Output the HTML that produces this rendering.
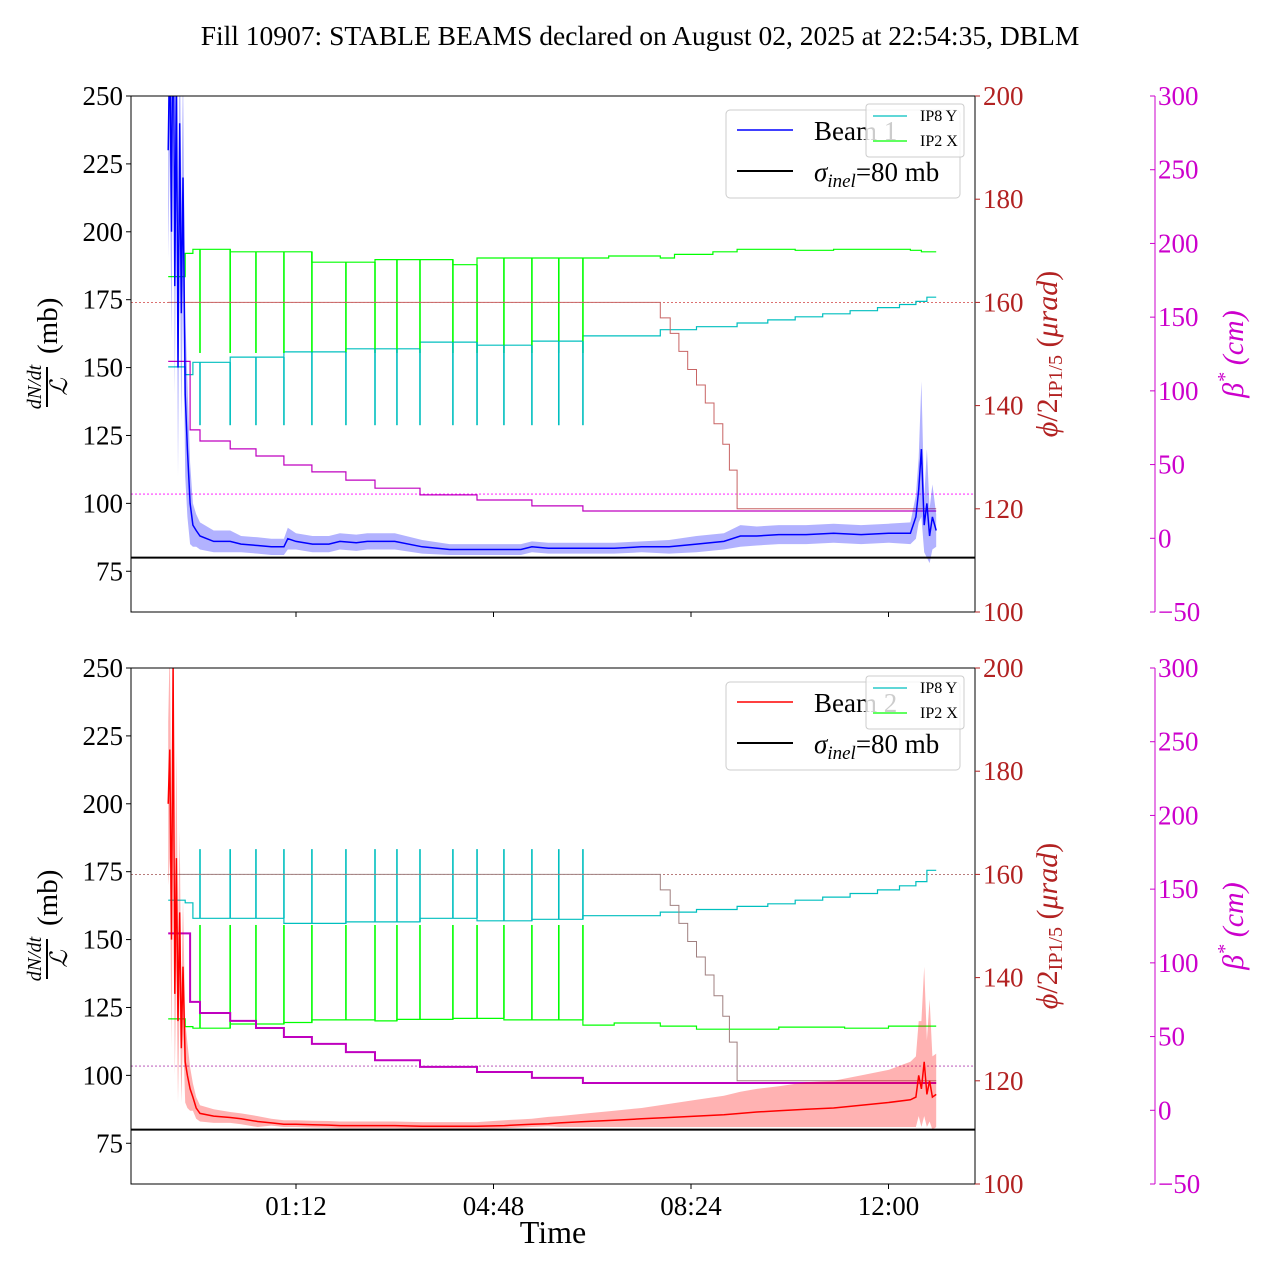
<!DOCTYPE html>
<html><head><meta charset="utf-8"><style>
body{margin:0;background:#fff;}
svg text{font-family:"Liberation Serif",serif;}
</style></head><body>
<svg id="chart" width="1280" height="1280" xmlns="http://www.w3.org/2000/svg">
<text x="640" y="45" font-size="27.5" text-anchor="middle">Fill 10907: STABLE BEAMS declared on August 02, 2025 at 22:54:35, DBLM</text>
</svg>
<script>
// ---- data (time in hours since 00:00 Aug 03) ----
const tSeries=[-1.13,-1.10,-1.07,-1.04,-1.01,-0.98,-0.95,-0.92,-0.89,-0.86,-0.82,-0.78,-0.73,-0.68,-0.62,-0.55,-0.3,0.0,0.2,0.5,0.75,0.98,1.05,1.2,1.5,1.8,2.0,2.3,2.5,2.8,3.0,3.5,4.0,4.5,5.0,5.3,5.5,5.8,6.0,6.5,7.0,7.5,8.0,8.5,9.0,9.3,9.6,10,10.5,11,11.5,12,12.4,12.5,12.55,12.6,12.65,12.7,12.75,12.8,12.87];
const beam1=[230,270,200,300,180,260,150,240,170,220,140,120,100,92,90,88,86,86,85,84.5,84,84,87,86,85,85,86,85.5,86,86,86,84,83,83,83,83,84,83.5,83.5,83.5,83.5,84,84,85,86,88,88,88.5,88.5,89,88.5,89,89,95,105,120,92,100,88,95,90];
const beam1Up=[40,40,40,40,40,40,40,40,40,40,30,25,15,8,6,5,4,4,3,3,3,3,4,3,3,3,3,3,3,3,3,2.5,2,2,2,2,2,2,2,2,2,2,2.5,3,3,4,3.5,3.5,3.5,3.5,3.5,3.5,4,8,12,25,10,20,10,12,6];
const beam1Lo=[40,40,40,40,40,40,40,40,40,40,30,25,15,8,6,5,4,4,3,3,3,3,4,3,3,3,3,3,3,3,3,2.5,2,2,2,2,2,2,2,2,2,2,2.5,3,3,4,3.5,3.5,3.5,3.5,3.5,3.5,4,8,12,25,10,20,10,12,6];
const beam2=[200,220,150,250,130,180,120,160,110,140,105,100,95,92,88,86,85,84.5,84,83,82.5,82,82,82,81.8,81.7,81.5,81.5,81.5,81.5,81.5,81.3,81.3,81.3,81.5,81.8,82,82.2,82.5,83,83.5,84,84.5,85,85.5,86,86.5,87,87.5,88,89,90,91,92,100,95,105,93,98,92,93];
const beam2Up=[30,40,40,50,30,40,30,30,20,25,15,12,8,5,4,3,2.5,2,2,2,1.5,1.5,1.5,1.5,1.5,1.5,1.5,1.5,1.5,1.5,1.5,1.5,1.5,1.5,2,2,2,2.5,2.5,3,3.5,4,5,6,7,8,8.5,9,10,10,11,12,14,15,20,25,35,20,30,15,15];
const beam2Lo=[30,40,40,50,30,40,30,30,20,25,15,12,8,5,4,3,2.5,2,2,2,1,1,1,1,1,1,1,1,1,1,1,1,1,1,1,1,1,1,1.5,2,2.5,3,3.5,4,4.5,5,5.5,6,6.5,7,8,9,10,11,15,14,20,12,15,12,12];
const sigmaInel=80;
const spikeTimes=[-0.55,0.0,0.47,0.98,1.49,2.11,2.64,3.04,3.46,4.06,4.50,4.99,5.50,5.99,6.43];
// IP8 Y / IP2 X step series (µrad, right axis)
const ip8T1=[-1.13,-0.82,-0.68,0.0,0.98,2.11,3.46,4.50,5.50,6.43,7.84,8.5,9.24,9.8,10.3,10.8,11.3,11.8,12.2,12.5,12.7,12.87];
const ip8V1=[147.5,146,148.4,149.4,150.4,151,152.3,151.7,152.5,153.5,154.7,155.3,156,156.6,157.2,157.8,158.4,159,159.6,160.2,161,161];
const ip2T1=[-1.13,-0.82,-0.68,0.0,1.49,2.64,4.06,4.50,5.99,6.9,7.84,8.1,8.8,9.24,10.3,11.0,12.4,12.6,12.87];
const ip2V1=[165,169.5,170.3,169.8,167.8,168.3,167.3,168.6,168.6,169,168.6,169.3,169.8,170.3,170.1,170.3,170.1,169.8,169.8];
const ip8T2=[-1.13,-0.82,-0.68,0.0,0.98,2.11,3.46,4.50,5.50,6.43,7.84,8.5,9.24,9.8,10.3,10.8,11.3,11.8,12.2,12.5,12.7,12.87];
const ip8V2=[155,154.5,151.5,151.5,150.5,150.8,151.5,151,151.3,152,152.7,153.2,153.8,154.3,155,155.6,156.3,157,157.8,158.6,160.8,160.8];
const ip2T2=[-1.13,-0.82,-0.68,0.0,0.98,1.49,2.64,3.04,4.06,4.99,6.43,7.0,7.84,8.5,9.24,10.0,11.2,12.0,12.87];
const ip2V2=[132,130.5,130.2,131,131.3,131.8,131.6,131.9,132.1,131.8,130.8,131.2,130.6,130,130,130.4,130.2,130.6,130.6];
const spikeDip1=[150.2,136.2]; // green dip, cyan dip
const spikeUp2=[150.2,164.9];  // green up, cyan up
// phi/2 IP1/5 steps (µrad)
const phiT=[-1.13,7.84,8.02,8.18,8.34,8.5,8.66,8.82,8.98,9.1,9.24,12.87];
const phiV=[160,157,154,150.5,147,144,140.5,136.5,132.5,127.5,120,120];
const phiRef=160, betaRef=30;
// beta* steps (cm)
const betaT=[-1.13,-0.73,-0.55,0.0,0.47,0.98,1.49,2.11,2.64,3.46,4.50,5.50,6.43,12.87];
const betaV=[120,73.5,66,60.6,55.8,49.7,45,39.5,34,29.4,26,22,18.5,18.5];
const xTicks=[1.2,4.8,8.4,12.0];
const xTickLabels=["01:12","04:48","08:24","12:00"];
const leftTicks=[75,100,125,150,175,200,225,250];
const redTicks=[100,120,140,160,180,200];
const magTicks=[-50,0,50,100,150,200,250,300];

// ---- rendering ----
const NS="http://www.w3.org/2000/svg";
const svg=document.getElementById('chart');
const X0=131,X1=975;
const xs=t=>296+(t-1.2)*197.5/3.6;
function mk(tag,attrs,parent){const e=document.createElementNS(NS,tag);for(const k in attrs)e.setAttribute(k,attrs[k]);(parent||svg).appendChild(e);return e;}
function stepPath(T,V,f){let d='';for(let i=0;i<T.length;i++){const x=xs(T[i]).toFixed(1),y=f(V[i]).toFixed(1);if(i==0)d+='M'+x+','+y;else d+='H'+x+'V'+y;}return d;}
function linePath(T,V,f){return T.map((t,i)=>(i?'L':'M')+xs(t).toFixed(1)+','+f(V[i]).toFixed(1)).join('');}

function panel(top,idx){
  const bot=top+516;
  const yl=v=>top+(250-v)*516/190;
  const yr=v=>top+(200-v)*516/100;
  const ym=v=>top+(300-v)*516/350;
  const g=mk('g',{});
  
  
  const clipId='clip'+idx;
  const cp=mk('clipPath',{id:clipId},g);mk('rect',{x:X0,y:top,width:X1-X0,height:516},cp);
  const pg=mk('g',{'clip-path':'url(#'+clipId+')'},g);
  const B=idx==0?beam1:beam2, U=idx==0?beam1Up:beam2Up, L=idx==0?beam1Lo:beam2Lo;
  const col=idx==0?'#0000ff':'#ff0000', band=idx==0?'rgba(0,0,255,0.3)':'rgba(255,0,0,0.3)';
  let e=mk('line',{x1:X0,x2:X1,y1:yr(phiRef),y2:yr(phiRef),stroke:idx==0?'#d04040':'#a05050','stroke-width':0.8,'stroke-dasharray':'2,2'},pg);
  
  e=mk('line',{x1:X0,x2:X1,y1:ym(betaRef),y2:ym(betaRef),stroke:idx==0?'#ff00ff':'#b040b0','stroke-width':0.8,'stroke-dasharray':'2,2'},pg);
  
  const i8T=idx==0?ip8T1:ip8T2,i8V=idx==0?ip8V1:ip8V2,i2T=idx==0?ip2T1:ip2T2,i2V=idx==0?ip2V1:ip2V2;
  e=mk('path',{d:stepPath(i2T,i2V,yr),fill:'none',stroke:'#00ff00','stroke-width':1.2},pg);
  
  e=mk('path',{d:stepPath(i8T,i8V,yr),fill:'none',stroke:'#00bfbf','stroke-width':1.2},pg);
  
  const valAt=(T,V,t)=>{let v=V[0];for(let i=0;i<T.length;i++)if(T[i]<=t)v=V[i];return v;};
  spikeTimes.forEach(t=>{
    const x=xs(t);
    const gT=idx==0?spikeDip1[0]:spikeUp2[0], cT=idx==0?spikeDip1[1]:spikeUp2[1];
    let s=mk('line',{x1:x,x2:x,y1:yr(valAt(i2T,i2V,t-0.01)),y2:yr(gT),stroke:'#00ff00','stroke-width':1.6},pg);
    
    s=mk('line',{x1:x,x2:x,y1:yr(valAt(i8T,i8V,t-0.01)),y2:yr(cT),stroke:'#00bfbf','stroke-width':1.6},pg);
    
  });
  e=mk('path',{d:stepPath(phiT,phiV,yr),fill:'none',stroke:idx==0?'#c86464':'#a08080','stroke-width':1},pg);
  
  e=mk('path',{d:stepPath(betaT,betaV,ym),fill:'none',stroke:'#bf00bf','stroke-width':idx==0?1.2:2},pg);
  
  let d='';tSeries.forEach((t,i)=>{d+=(i?'L':'M')+xs(t).toFixed(1)+','+yl(B[i]+U[i]).toFixed(1);});
  for(let i=tSeries.length-1;i>=0;i--)d+='L'+xs(tSeries[i]).toFixed(1)+','+yl(B[i]-L[i]).toFixed(1);
  e=mk('path',{d:d+'Z',fill:band,stroke:'none'},pg);
  
  e=mk('path',{d:linePath(tSeries,B,yl),fill:'none',stroke:col,'stroke-width':1.5},pg);
  
  e=mk('line',{x1:X0,x2:X1,y1:yl(sigmaInel),y2:yl(sigmaInel),stroke:'#000','stroke-width':2},pg);
  
  e=mk('rect',{x:X0,y:top,width:X1-X0,height:516,fill:'none',stroke:'#000','stroke-width':1},g);
  
  leftTicks.forEach(v=>{const y=yl(v);mk('line',{x1:X0-5,x2:X0,y1:y,y2:y,stroke:'#000'},g);
    const t=mk('text',{x:X0-8,y:y+9,'font-size':27,'text-anchor':'end'},g);t.textContent=v;
    });
  redTicks.forEach(v=>{const y=yr(v);mk('line',{x1:X1,x2:X1+5,y1:y,y2:y,stroke:'#b22222'},g);
    const t=mk('text',{x:X1+8,y:y+9,'font-size':27,fill:'#b22222'},g);t.textContent=v;
    });
  mk('line',{x1:1155,x2:1155,y1:top,y2:bot,stroke:'#cc00cc','stroke-width':1},g);
  magTicks.forEach(v=>{const y=ym(v);mk('line',{x1:1150,x2:1155,y1:y,y2:y,stroke:'#cc00cc'},g);
    const t=mk('text',{x:1158,y:y+9,'font-size':27,fill:'#cc00cc'},g);t.textContent=v<0?'\u2212'+(-v):v;
    });
  xTicks.forEach((t,i)=>{const x=xs(t);mk('line',{x1:x,x2:x,y1:bot,y2:bot+5,stroke:'#000'},g);
    if(idx==1){const tx=mk('text',{x:x,y:bot+31,'font-size':27,'text-anchor':'middle'},g);tx.textContent=xTickLabels[i];
      }});
  const cy=top+258;
  const lt=mk('g',{transform:'translate(47,'+cy+') rotate(-90)'},g);
  
  let t=mk('text',{x:-33,y:-6,'font-size':20,'font-style':'italic','text-anchor':'middle'},lt);t.textContent='dN/dt';
  mk('line',{x1:-53,x2:-13,y1:0,y2:0,stroke:'#000','stroke-width':2},lt);
  t=mk('text',{x:-33,y:20,'font-size':24,'font-style':'italic','text-anchor':'middle'},lt);t.textContent='\u2112';
  t=mk('text',{x:0,y:10,'font-size':29,'text-anchor':'start'},lt);t.textContent='(mb)';
  const rt=mk('text',{transform:'translate(1057,'+cy+') rotate(-90)','font-size':30,fill:'#b22222','text-anchor':'middle'},g);
  
  rt.innerHTML='<tspan font-style="italic">\u03d5</tspan>/2<tspan font-size="20" dy="5">IP1/5</tspan><tspan dy="-5"> (</tspan><tspan font-style="italic">\u03bcrad</tspan>)';
  const mt=mk('text',{transform:'translate(1243,'+cy+') rotate(-90)','font-size':30,fill:'#cc00cc','text-anchor':'middle','font-style':'italic'},g);
  
  mt.innerHTML='\u03b2<tspan font-size="20" dy="-12">*</tspan><tspan dy="12"> (cm)</tspan>';
  const lg=mk('g',{},g);
  mk('rect',{x:726,y:top+14,width:234,height:88,rx:4,fill:'rgba(255,255,255,0.8)',stroke:'#ccc'},lg);
  mk('line',{x1:737,x2:793,y1:top+34,y2:top+34,stroke:col,'stroke-width':1.5},lg);
  t=mk('text',{x:814,y:top+44,'font-size':27},lg);t.textContent='Beam '+(idx+1);
  mk('line',{x1:737,x2:793,y1:top+75,y2:top+75,stroke:'#000','stroke-width':2},lg);
  t=mk('text',{x:814,y:top+85,'font-size':27},lg);
  t.innerHTML='<tspan font-style="italic">\u03c3</tspan><tspan font-style="italic" font-size="19" dy="6">inel</tspan><tspan dy="-6">=80 mb</tspan>';
  const sl=mk('g',{},g);
  mk('rect',{x:866,y:top+8,width:98,height:53,rx:3,fill:'rgba(255,255,255,0.8)',stroke:'#ccc'},sl);
  mk('line',{x1:873,x2:907,y1:top+20,y2:top+20,stroke:'#00bfbf','stroke-width':1.2},sl);
  t=mk('text',{x:920,y:top+25,'font-size':16},sl);t.textContent='IP8 Y';
  mk('line',{x1:873,x2:907,y1:top+45,y2:top+45,stroke:'#00ff00','stroke-width':1.2},sl);
  t=mk('text',{x:920,y:top+50,'font-size':16},sl);t.textContent='IP2 X';
}
panel(96,0);panel(668,1);
const xt=mk('text',{x:553,y:1243,'font-size':32,'text-anchor':'middle'});xt.textContent='Time';

</script>
</body></html>
